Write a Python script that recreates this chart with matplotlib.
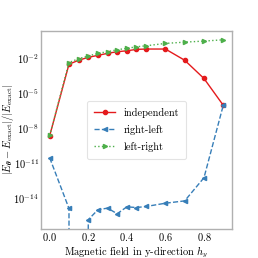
import numpy as np
import matplotlib
matplotlib.use("Agg")
import matplotlib.pyplot as plt

plt.rcParams['font.family'] = 'serif'
plt.rcParams['font.serif'] = ['cmr10']
plt.rcParams['mathtext.fontset'] = 'cm'
plt.rcParams['axes.formatter.use_mathtext'] = True
plt.rcParams['axes.unicode_minus'] = False

h_y = [0.0, 0.1, 0.15, 0.2, 0.25, 0.3, 0.35, 0.4, 0.45, 0.5, 0.6, 0.7, 0.8, 0.9]
log_independent = [-8.67, -2.56, -2.22, -1.97, -1.80, -1.63, -1.49, -1.41, -1.29, -1.26, -1.26, -2.22, -3.78, -6.07]
log_right_left = [-10.57, -14.90, None, -15.86, -15.01, -14.87, -15.35, -14.76, -14.82, -14.73, -14.45, -14.25, -12.27, -6.07]
log_left_right = [-8.65, -2.42, -2.08, -1.86, -1.63, -1.49, -1.32, -1.20, -1.07, -0.98, -0.78, -0.67, -0.58, -0.47]
x_ticks = [0.0, 0.2, 0.4, 0.6, 0.8]
y_tick_exponents = [-14, -11, -8, -5, -2]

def to_lin(arr):
    return np.array([0.0 if v is None else 10.0 ** v for v in arr])

independent = to_lin(log_independent)
right_left = to_lin(log_right_left)
left_right = to_lin(log_left_right)

fig = plt.figure(figsize=(2.58, 2.58), dpi=100)
ax = fig.add_axes([0.159, 0.1136, 0.740, 0.767])

ax.plot(h_y, independent, '-o', color='#e41a1c', lw=1.0, ms=3, label='independent')
ax.plot(h_y, right_left, '--<', color='#377eb8', lw=1.0, ms=3, label='right-left')
ax.plot(h_y, left_right, ':>', color='#4daf4a', lw=1.0, ms=3, label='left-right')
ax.set_yscale('log')

ax.set_xticks(x_ticks)
ax.set_yticks([10.0 ** e for e in y_tick_exponents])
ax.yaxis.set_minor_locator(matplotlib.ticker.NullLocator())
ax.tick_params(length=0, labelsize=7.5, pad=1.5)
for s in ax.spines.values():
    s.set_color('#b0b0b0')
    s.set_linewidth(1.0)

ax.set_xlabel(r'Magnetic field in y-direction $h_y$', fontsize=7.5, labelpad=1)
ax.set_ylabel(r'$|E_{\boldsymbol{\theta}} - E_{\mathrm{exact}}| / |E_{\mathrm{exact}}|$', fontsize=7.5)
ax.yaxis.set_label_coords(-0.133, 0.5)

leg = ax.legend(loc='center', fontsize=7.5, frameon=True, borderpad=0.7, labelspacing=0.65)
leg.get_frame().set_edgecolor('#dddddd')
leg.get_frame().set_linewidth(0.8)

fig.savefig('out.png', dpi=100)
